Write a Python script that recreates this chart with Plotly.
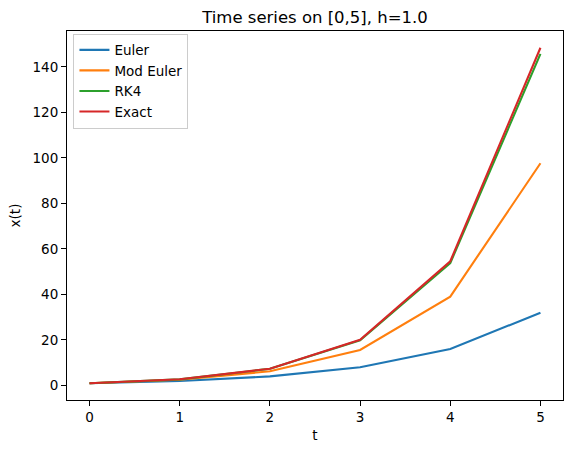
import plotly.graph_objects as go

t = [0, 1, 2, 3, 4, 5]
euler = [1, 2, 4, 8, 16, 32]
mod_euler = [1, 2.5, 6.25, 15.625, 39.0625, 97.65625]
rk4 = [1, 2.708, 7.335, 19.865, 53.803, 145.719]
exact = [1, 2.718, 7.389, 20.086, 54.598, 148.413]

names = ["Euler", "Mod Euler", "RK4", "Exact"]
series = [euler, mod_euler, rk4, exact]
colors = ["#1f77b4", "#ff7f0e", "#2ca02c", "#d62728"]

fig = go.Figure()
for n, s, c in zip(names, series, colors):
    fig.add_trace(go.Scatter(x=t, y=s, mode="lines", name=n,
                             line=dict(color=c, width=2.1)))

font = "DejaVu Sans"
axis_common = dict(showgrid=False, zeroline=False, showline=True, linecolor="black",
                   linewidth=1.1, mirror=True, ticks="outside", ticklen=5,
                   tickcolor="black", tickwidth=1.1,
                   tickfont=dict(family=font, size=13.5, color="black"))
fig.update_layout(
    width=571, height=453,
    margin=dict(l=66.5, r=8, t=30.5, b=53),
    paper_bgcolor="white", plot_bgcolor="white",
    title=dict(text="Time series on [0,5], h=1.0", x=0.5, xref="paper",
               y=1 - 17 / 453, yanchor="middle",
               font=dict(family=font, size=16.5, color="black")),
    xaxis=dict(range=[-0.25, 5.25], tickvals=[0, 1, 2, 3, 4, 5],
               title=dict(text="t", font=dict(family=font, size=13.5, color="black"), standoff=6),
               **axis_common),
    yaxis=dict(range=[-6.37, 155.78], tickvals=[0, 20, 40, 60, 80, 100, 120, 140],
               title=dict(text="x(t)", font=dict(family=font, size=13.5, color="black"), standoff=8),
               **axis_common),
    legend=dict(x=0.013, y=0.993, xanchor="left", yanchor="top",
                bgcolor="rgba(255,255,255,0.8)", bordercolor="#cccccc", borderwidth=1,
                font=dict(family=font, size=13.5, color="black")),
    showlegend=True,
)
fig.write_html("out.html")
